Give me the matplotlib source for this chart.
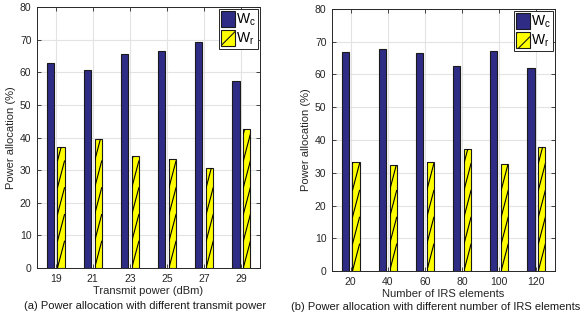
import matplotlib
matplotlib.use("Agg")
import matplotlib.pyplot as plt
from matplotlib.patches import Patch
from matplotlib.lines import Line2D
import numpy as np

plt.rcParams['font.family'] = ['Liberation Sans', 'DejaVu Sans']
plt.rcParams['mathtext.fontset'] = 'custom'
plt.rcParams['mathtext.rm'] = 'Liberation Sans'
plt.rcParams['mathtext.it'] = 'Liberation Sans'
plt.rcParams['hatch.linewidth'] = 0.8

# Panel (a): transmit power sweep
power_labels = ["19", "21", "23", "25", "27", "29"]
power_wc = [62.8, 60.6, 65.6, 66.5, 69.3, 57.4]
power_wr = [37.2, 39.4, 34.4, 33.4, 30.7, 42.6]

# Panel (b): IRS element count sweep
irs_labels = ["20", "40", "60", "80", "100", "120"]
irs_wc = [66.8, 67.7, 66.6, 62.7, 67.3, 62.0]
irs_wr = [33.2, 32.3, 33.4, 37.3, 32.7, 38.0]

WC_COLOR = "#2f2c85"
WR_COLOR = "#ffff00"
EDGE = "#1a1a1a"
TXT = "#262626"

fig = plt.figure(figsize=(5.81, 3.2), dpi=100)


def draw_panel(rect, labels, wc, wr, xlabel, caption, cap_xy):
    ax = fig.add_axes(rect)
    x = np.arange(1, len(labels) + 1)
    off, w = 0.145, 0.19
    ax.bar(x - off, wc, width=w, color=WC_COLOR, edgecolor=EDGE,
           linewidth=0.8, zorder=3)
    bars = ax.bar(x + off, wr, width=w, color=WR_COLOR, edgecolor=EDGE,
                  linewidth=0.8, zorder=3)
    # steep diagonal stripes inside each Wr bar
    period = 8.2
    for b in bars:
        xl, xr = b.get_x(), b.get_x() + b.get_width()
        top = b.get_height()
        k = 0
        while k * period < top:
            ln = Line2D([xl, xr], [k * period, (k + 1) * period],
                        color="black", linewidth=0.8, zorder=4)
            ax.add_line(ln)
            ln.set_clip_path(b)
            k += 1
    ax.set_xlim(0.5, 6.5)
    ax.set_ylim(0, 80)
    ax.set_xticks(x)
    ax.set_xticklabels(labels)
    ax.set_yticks(np.arange(0, 81, 10))
    ax.grid(True, color="#e3e3e3", linewidth=0.8, zorder=0)
    ax.set_axisbelow(True)
    ax.tick_params(direction="in", length=3, width=0.6, labelsize=7.5,
                   colors=TXT, top=True, right=True, pad=4)
    for s in ax.spines.values():
        s.set_color(TXT)
        s.set_linewidth(0.7)
    ax.set_xlabel(xlabel, fontsize=8, color=TXT, labelpad=2)
    ax.set_ylabel("Power allocation (%)", fontsize=8, color=TXT, labelpad=3)
    handles = [
        Patch(facecolor=WC_COLOR, edgecolor=EDGE, linewidth=0.8),
        Patch(facecolor=WR_COLOR, edgecolor=EDGE, linewidth=0.8, hatch="//"),
    ]
    leg = ax.legend(handles, [r"$\mathrm{W}_\mathrm{c}$", r"$\mathrm{W}_\mathrm{r}$"],
                    loc="upper right", fontsize=10, handlelength=1.0,
                    handleheight=1.45, handletextpad=0.1, labelspacing=0.12,
                    borderpad=0.12, borderaxespad=0.15, fancybox=False,
                    framealpha=1, edgecolor=TXT)
    leg.get_frame().set_linewidth(0.7)
    fig.text(cap_xy[0], cap_xy[1], caption, ha="center", va="center",
             fontsize=8, color="#1a1a1a")
    return ax


draw_panel([37 / 581, 52 / 320, 223 / 581, 261 / 320], power_labels,
           power_wc, power_wr, "Transmit power (dBm)",
           "(a) Power allocation with different transmit power",
           (145 / 581, 1 - 306 / 320))
draw_panel([332 / 581, 49 / 320, 223 / 581, 262 / 320], irs_labels,
           irs_wc, irs_wr, "Number of IRS elements",
           "(b) Power allocation with different number of IRS elements",
           (436 / 581, 1 - 307 / 320))

fig.savefig("out.png", dpi=100)
